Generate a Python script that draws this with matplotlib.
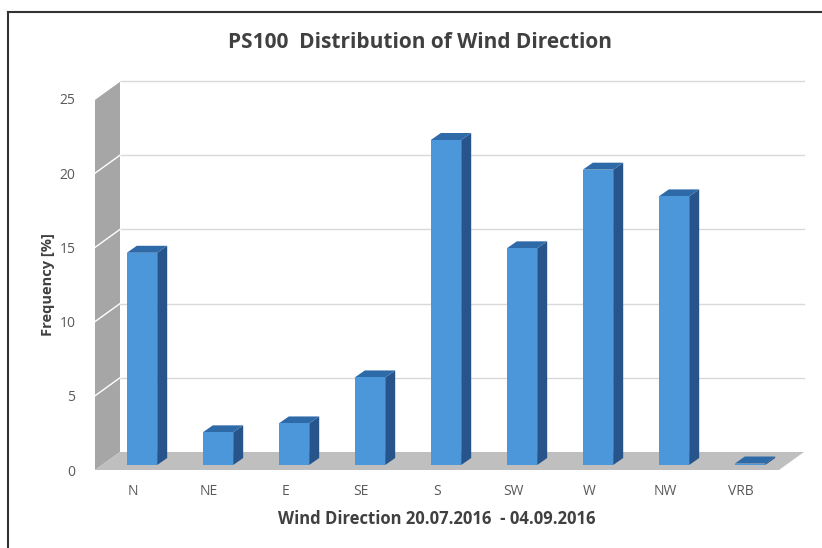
import matplotlib
matplotlib.use("Agg")
import matplotlib.pyplot as plt
from matplotlib.patches import Polygon
from matplotlib.lines import Line2D
import matplotlib.transforms as mtransforms

directions = ["N", "NE", "E", "SE", "S", "SW", "W", "NW", "VRB"]
frequency = [14.3, 2.2, 2.8, 5.9, 21.9, 14.6, 19.9, 18.1, 0.1]
yticks = [0, 5, 10, 15, 20, 25]

plt.rcParams['font.family'] = ['Open Sans', 'DejaVu Sans']

text_col = '#404040'
front_col = '#4b97d9'
side_col = '#27548a'
top_col = '#2f6aa8'
wall_col = '#a6a6a6'
floor_col = '#bfbfbf'
grid_col = '#d9d9d9'

fig = plt.figure(figsize=(8.22, 5.48), dpi=100)
ax = fig.add_axes([95/822, 78/548, 684/822, 371/548])
ax.set_xlim(-0.5, 8.5)
ax.set_ylim(0, 25)

# offsets (pixels) for the 3d look
dx_back, dy_back = 25, 18       # back wall
dx_bar, dy_bar = 9, 5           # bar front face set back from front plane
dx_dep, dy_dep = 10, 7          # bar depth

def shifted(dx, dy):
    return ax.transData + mtransforms.Affine2D().translate(dx, dy)

back = shifted(dx_back, dy_back)
front = ax.transData

def quad(p_front, p_back, t1, t2, **kw):
    # two points in one transform, two in another, joined in display coords
    pts = [t1.transform(p) for p in p_front] + [t2.transform(p) for p in p_back[::-1]]
    inv = ax.transData.inverted()
    poly = Polygon([inv.transform(p) for p in pts], closed=True, clip_on=False, **kw)
    ax.add_patch(poly)

# side wall
quad([(-0.5, 0), (-0.5, 25)], [(-0.5, 0), (-0.5, 25)], front, back,
     facecolor=wall_col, edgecolor='none', zorder=1)
# floor
quad([(-0.5, 0), (8.5, 0)], [(-0.5, 0), (8.5, 0)], front, back,
     facecolor=floor_col, edgecolor='none', zorder=1)

# gridlines on back wall + side wall
for v in yticks[1:]:
    ax.plot([-0.5, 8.5], [v, v], color=grid_col, lw=1, transform=back, zorder=0.5,
            clip_on=False)
    p1 = front.transform((-0.5, v))
    p2 = back.transform((-0.5, v))
    ax.add_line(Line2D([p1[0], p2[0]], [p1[1], p2[1]], color='white', lw=1,
                       transform=None, zorder=1.5, clip_on=False))

# bars: front, side and top faces
bw = 0.4
x = list(range(len(directions)))
bar_front = shifted(dx_bar, dy_bar)
bar_back = shifted(dx_bar + dx_dep, dy_bar + dy_dep)
for i, v in zip(x, frequency):
    l, r = i - bw / 2, i + bw / 2
    quad([(r, 0), (r, v)], [(r, 0), (r, v)], bar_front, bar_back,
         facecolor=side_col, edgecolor='none', zorder=3)
    quad([(l, v), (r, v)], [(l, v), (r, v)], bar_front, bar_back,
         facecolor=top_col, edgecolor='none', zorder=3)
bars = ax.bar(x, frequency, width=bw, color=front_col, zorder=4, transform=bar_front)
for b in bars:
    b.set_clip_on(False)

for s in ax.spines.values():
    s.set_visible(False)
ax.set_xticks(x)
ax.set_xticklabels(directions)
ax.set_yticks(yticks)
ax.tick_params(length=0, labelsize=10, labelcolor='#595959', pad=10)
ax.tick_params(axis='y', pad=14)
ax.patch.set_visible(False)

ax.set_ylabel('Frequency [%]', fontsize=10.5, fontweight='bold', color=text_col, labelpad=3)
ax.set_xlabel('Wind Direction 20.07.2016  - 04.09.2016', fontsize=12, fontweight='bold',
              color=text_col, labelpad=8)
fig.text(420/822, 1 - 42/548, 'PS100  Distribution of Wind Direction', fontsize=15,
         fontweight='bold', color=text_col, ha='center', va='center')

# outer frame (top and left edges)
fig.add_artist(Line2D([7.5/822, 1], [1 - 12/548, 1 - 12/548], color='#333333', lw=1.5,
                      transform=fig.transFigure))
fig.add_artist(Line2D([7.5/822, 7.5/822], [0, 1 - 12/548], color='#333333', lw=1.5,
                      transform=fig.transFigure))

fig.savefig('out.png', dpi=100)
